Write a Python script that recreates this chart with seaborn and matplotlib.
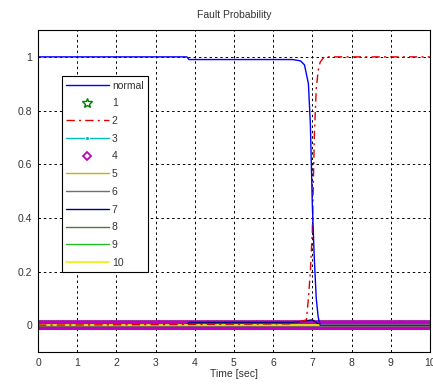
import numpy as np
import pandas as pd
import matplotlib
matplotlib.use("Agg")
import matplotlib.pyplot as plt
import seaborn as sns

# ---- data ----
t_normal = [0.0, 3.8, 3.85, 6.5, 6.7, 6.8, 6.9, 6.95, 7.0, 7.05, 7.1, 7.15, 7.2, 10.0]
p_normal = [1.0, 1.0, 0.99, 0.99, 0.985, 0.97, 0.9, 0.75, 0.45, 0.25, 0.1, 0.03, 0.0, 0.0]

t_f2 = [0.0, 6.5, 6.85, 6.9, 6.95, 7.0, 7.05, 7.1, 7.15, 7.2, 7.3, 10.0]
p_f2 = [0.0, 0.005, 0.02, 0.1, 0.2, 0.35, 0.7, 0.88, 0.95, 0.98, 1.0, 1.0]

t_f7 = [0.0, 3.8, 3.85, 6.5, 6.8, 7.0, 7.2, 10.0]
p_f7 = [0.0, 0.0, 0.01, 0.01, 0.015, 0.02, 0.0, 0.0]

t_samples = np.arange(0.0, 10.0001, 0.05)   # sample times of the flat series
p_zero = np.zeros_like(t_samples)

labels = ["normal", "1", "2", "3", "4", "5", "6", "7", "8", "9", "10"]
x_ticks = [0, 1, 2, 3, 4, 5, 6, 7, 8, 9, 10]
y_ticks = [0, 0.2, 0.4, 0.6, 0.8, 1.0]
y_tick_labels = ["0", "0.2", "0.4", "0.6", "0.8", "1"]

sns.set_style("white")
plt.rcParams["font.family"] = ["Liberation Sans", "DejaVu Sans"]

fig = plt.figure(figsize=(4.33, 3.87), dpi=100)
ax = fig.add_axes([0.0878, 0.0904, 0.905, 0.832])

# draw flat / faint series first
sns.lineplot(x=t_samples, y=p_zero, ax=ax, color="#008000", linestyle="none",
             marker="*", markersize=7, markerfacecolor="none", markeredgecolor="#008000",
             markeredgewidth=1.0, label=labels[1], estimator=None, sort=False)
sns.lineplot(x=t_samples, y=p_zero, ax=ax, color="#00bfbf", linewidth=1,
             marker="o", markersize=3, label=labels[3], estimator=None, sort=False)
sns.lineplot(x=t_samples, y=p_zero, ax=ax, color="#bf00bf", linestyle="none",
             marker="D", markersize=4.5, markerfacecolor="none", markeredgecolor="#bf00bf",
             markeredgewidth=1.3, label=labels[4], estimator=None, sort=False)
sns.lineplot(x=[0.0, 10.0], y=[0.0, 0.0], ax=ax, color="#c8b400", linewidth=1, label=labels[5], estimator=None)
sns.lineplot(x=[0.0, 10.0], y=[0.0, 0.0], ax=ax, color="#707070", linewidth=1, label=labels[6], estimator=None)
sns.lineplot(x=t_f7, y=p_f7, ax=ax, color="#000080", linewidth=1, label=labels[7], estimator=None, sort=False)
sns.lineplot(x=[0.0, 10.0], y=[0.0, 0.0], ax=ax, color="#408040", linewidth=1, label=labels[8], estimator=None)
sns.lineplot(x=[0.0, 10.0], y=[0.0, 0.0], ax=ax, color="#20c020", linewidth=1, label=labels[9], estimator=None)
sns.lineplot(x=[0.0, 10.0], y=[0.0, 0.0], ax=ax, color="#f0f000", linewidth=1.2, label=labels[10], estimator=None)
sns.lineplot(x=t_f2, y=p_f2, ax=ax, color="#e00000", linewidth=1, linestyle=(0, (6, 3, 1.5, 3)),
             label=labels[2], estimator=None, sort=False)
sns.lineplot(x=t_normal, y=p_normal, ax=ax, color="#0000ff", linewidth=1, label=labels[0],
             estimator=None, sort=False)

ax.set_xlim(0, 10)
ax.set_ylim(-0.1, 1.1)
ax.set_xticks(x_ticks)
ax.set_xticklabels([str(v) for v in x_ticks], fontsize=7.5)
ax.set_yticks(y_ticks)
ax.set_yticklabels(y_tick_labels, fontsize=7.5)
ax.tick_params(direction="in", length=3, width=0.6, colors="black", labelcolor="#333333", pad=4)
ax.grid(True, color="black", linestyle=(0, (2.5, 3)), linewidth=0.7)
for s in ax.spines.values():
    s.set_color("black")
    s.set_linewidth(0.8)
ax.set_xlabel("Time [sec]", fontsize=7.5, labelpad=1, color="#333333")
ax.set_ylabel("")
ax.set_title("Fault Probability", fontsize=7.5, pad=9, color="#333333")

handles, labs = ax.get_legend_handles_labels()
order = [labs.index(l) for l in labels]
leg = ax.legend([handles[i] for i in order], [labs[i] for i in order],
                loc="upper left", bbox_to_anchor=(0.061, 0.856), fontsize=7.5,
                frameon=True, fancybox=False, framealpha=1, edgecolor="black",
                handlelength=4.1, handletextpad=0.3, labelspacing=0.74,
                borderpad=0.4, borderaxespad=0)
leg.get_frame().set_linewidth(0.8)
for t in leg.get_texts():
    t.set_color("#333333")

fig.savefig("out.png", dpi=100, facecolor="white")
